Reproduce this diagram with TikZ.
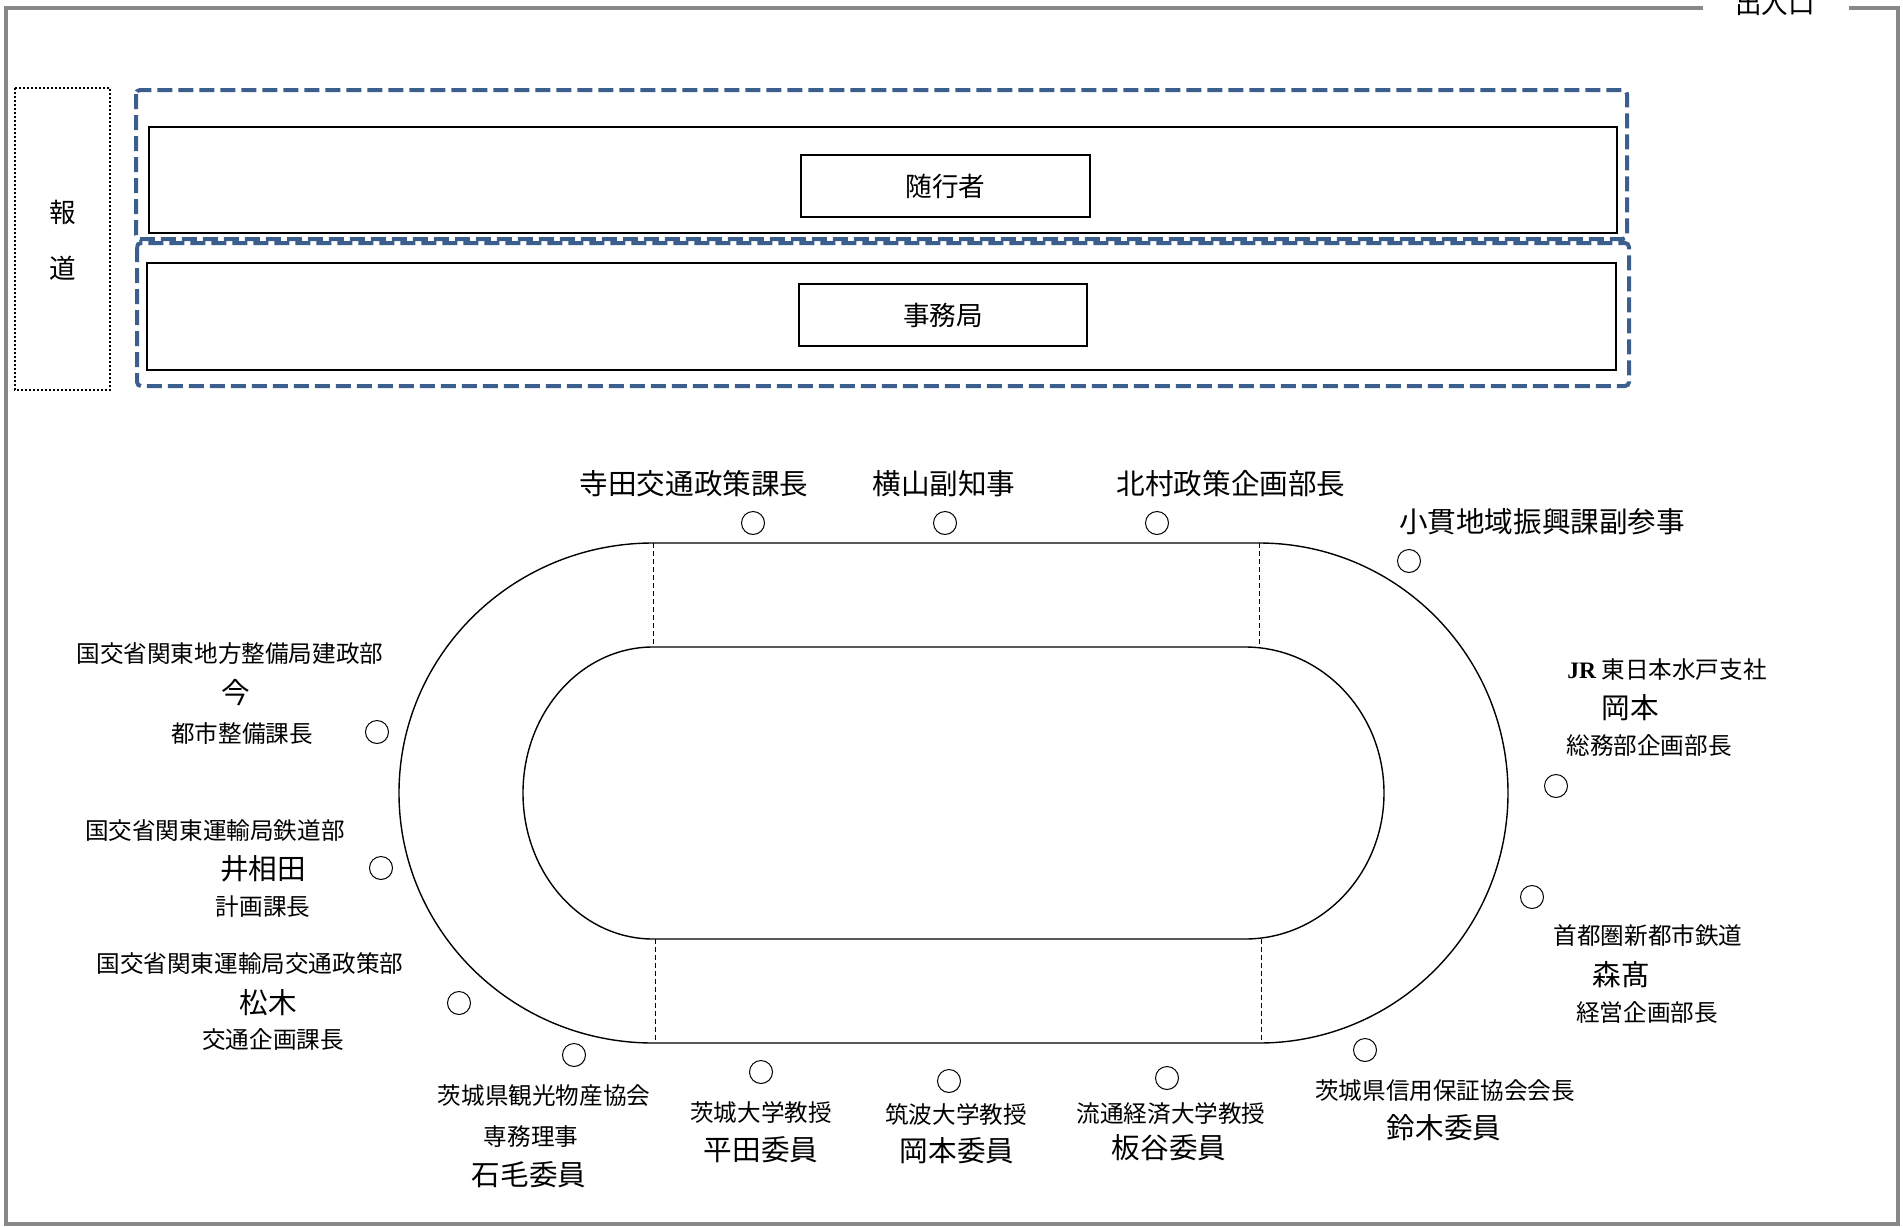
\documentclass[tikz,border=0pt]{standalone}
\usepackage{fontspec}
\setmainfont{Noto Sans CJK JP}
\newfontfamily\lserif{Liberation Serif}
\definecolor{dblue}{RGB}{59,94,140}
\definecolor{framegray}{RGB}{136,136,136}
\begin{document}
\begin{tikzpicture}[x=0.5pt,y=-0.5pt,
  sm/.style={font=\fontsize{11.8pt}{14pt}\selectfont, inner sep=0pt},
  lg/.style={font=\fontsize{14.3pt}{17pt}\selectfont, inner sep=0pt},
  md/.style={font=\fontsize{13.3pt}{16pt}\selectfont, inner sep=0pt},
  seat/.style={circle, draw, line width=0.5pt, minimum size=11.5pt, inner sep=0pt},
  track/.style={draw, line width=0.7pt},
  sep/.style={draw, line width=0.5pt, dash pattern=on 2.5pt off 1.5pt},
  area/.style={draw, line width=0.8pt},
  zone/.style={draw=dblue, line width=2pt, dash pattern=on 7.5pt off 3pt, rounded corners=2pt},
  press/.style={draw, line width=1pt, dash pattern=on 1pt off 1pt},
  frame/.style={draw=framegray, line width=1.6pt}
]
\useasboundingbox (0,0) rectangle (1903,1227);
% outer frame
\draw[frame] (1703,8) -- (6,8) -- (6,1224) -- (1898,1224) -- (1898,8) -- (1849,8);
\node[md] (door) at (1775,3) {出入口};
% press
\draw[press] (15,88) rectangle (110,390);
\node[md] (ho) at (63,212) {報};
\node[md] (do) at (63,268) {道};
% zones
\draw[zone] (136,90) rectangle (1627,239);
\draw[zone] (137,243) rectangle (1629,386);
\draw[area] (149,127) rectangle (1617,233);
\draw[area] (147,263) rectangle (1616,370);
\node[md, draw, line width=0.7pt, minimum width=144.5pt, minimum height=31pt] (zuiko) at (945.5,186) {随行者};
\node[md, draw, line width=0.7pt, minimum width=144pt, minimum height=31pt] (jimu) at (943,315) {事務局};
% table
\draw[track] (653,543) -- (1259,543) arc[start angle=-90, end angle=90, x radius=249, y radius=250] -- (653,1043) arc[start angle=90, end angle=270, x radius=254, y radius=250] -- cycle;
\draw[track] (653,647) -- (1245,647) arc[start angle=-90, end angle=90, x radius=139, y radius=146] -- (653,939) arc[start angle=90, end angle=270, x radius=130, y radius=146] -- cycle;
\coordinate (d1a) at (653,543); \coordinate (d1b) at (653,647);
\coordinate (d2a) at (1259,543); \coordinate (d2b) at (1259,647);
\coordinate (d3a) at (655,939); \coordinate (d3b) at (655,1043);
\coordinate (d4a) at (1261,939); \coordinate (d4b) at (1261,1043);
\draw[sep] (d1a) -- (d1b);
\draw[sep] (d2a) -- (d2b);
\draw[sep] (d3a) -- (d3b);
\draw[sep] (d4a) -- (d4b);
% top seats
\node[lg] (t1) at (694,484) {寺田交通政策課長};
\node[seat] (s1) at (753,523) {};
\node[lg] (t2) at (944,484) {横山副知事};
\node[seat] (s2) at (945,523) {};
\node[lg] (t3) at (1231,484) {北村政策企画部長};
\node[seat] (s3) at (1157,523) {};
\node[lg] (t4) at (1542,522) {小貫地域振興課副参事};
\node[seat] (s4) at (1409,561) {};
% right seats
\node[sm] (r1a) at (1667,670) {{\lserif\bfseries JR} 東日本水戸支社};
\node[lg] (r1b) at (1630,708) {岡本};
\node[sm] (r1c) at (1649,746) {総務部企画部長};
\node[seat] (s5) at (1556,786) {};
\node[seat] (s6) at (1532,897) {};
\node[sm] (r2a) at (1648,936) {首都圏新都市鉄道};
\node[lg] (r2b) at (1621,975) {森髙};
\node[sm] (r2c) at (1647,1013) {経営企画部長};
% bottom seats
\node[seat] (s7) at (1365,1050) {};
\node[sm] (b1a) at (1445,1091) {茨城県信用保証協会会長};
\node[lg] (b1b) at (1444,1128) {鈴木委員};
\node[seat] (s8) at (1167,1078) {};
\node[sm] (b2a) at (1171,1114) {流通経済大学教授};
\node[lg] (b2b) at (1169,1148) {板谷委員};
\node[seat] (s9) at (949,1081) {};
\node[sm] (b3a) at (956,1114) {筑波大学教授};
\node[lg] (b3b) at (957,1151) {岡本委員};
\node[seat] (s10) at (761,1072) {};
\node[sm] (b4a) at (761,1112) {茨城大学教授};
\node[lg] (b4b) at (761,1150) {平田委員};
\node[seat] (s11) at (574,1055) {};
\node[sm] (b5a) at (544,1096) {茨城県観光物産協会};
\node[sm] (b5b) at (531,1137) {専務理事};
\node[lg] (b5c) at (529,1175) {石毛委員};
% left seats
\node[sm] (l1a) at (250,964) {国交省関東運輸局交通政策部};
\node[lg] (l1b) at (268,1003) {松木};
\node[sm] (l1c) at (273,1040) {交通企画課長};
\node[seat] (s12) at (459,1003) {};
\node[sm] (l2a) at (215,831) {国交省関東運輸局鉄道部};
\node[lg] (l2b) at (263,869) {井相田};
\node[sm] (l2c) at (263,907) {計画課長};
\node[seat] (s13) at (381,868) {};
\node[sm] (l3a) at (230,654) {国交省関東地方整備局建政部};
\node[lg] (l3b) at (236,693) {今};
\node[sm] (l3c) at (242,733) {都市整備課長};
\node[seat] (s14) at (377,732) {};
\end{tikzpicture}
\end{document}
